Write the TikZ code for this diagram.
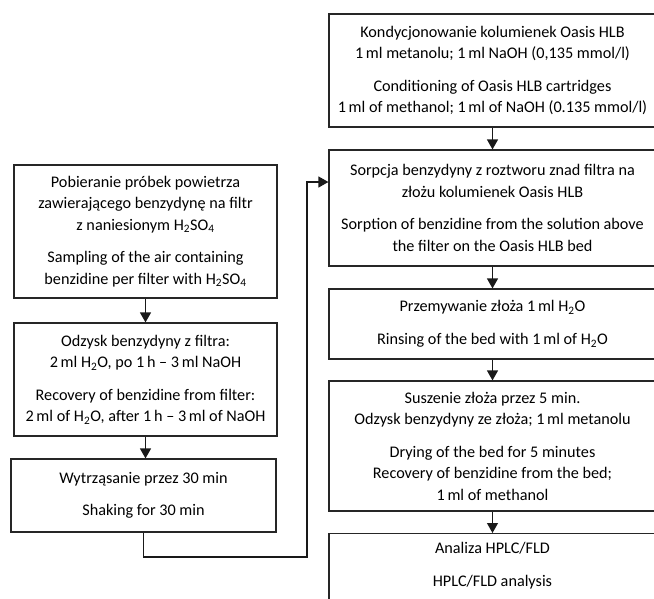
\documentclass[tikz,border=0pt]{standalone}
\usepackage{fontspec}
\setmainfont{Carlito}
\usetikzlibrary{arrows.meta}
\newcommand{\sub}[1]{\textsubscript{#1}}
\begin{document}
\begin{tikzpicture}[x=1pt,y=-1pt,
  txt/.style={font=\fontsize{16.2}{21.5}\selectfont},
  box/.style={draw=black!85, line width=1.2pt, inner sep=0pt, align=center, txt},
  arr/.style={draw=black!90, line width=1.2pt, -{Triangle[length=10pt,width=11pt]}},
  con/.style={draw=black!90, line width=1.2pt}]
\useasboundingbox (0,0) rectangle (654,598);
% left column
\node[box, minimum width=263pt, minimum height=133pt] (L1) at (145.5,231.5)
  {Pobieranie próbek powietrza\\zawierającego benzydynę na filtr\\z naniesionym H\sub{2}SO\sub{4}\\[11pt]
   Sampling of the air containing\\benzidine per filter with H\sub{2}SO\sub{4}};
\node[box, minimum width=263pt, minimum height=113pt] (L2) at (145.5,379.5)
  {Odzysk benzydyny z filtra:\\2\,ml H\sub{2}O, po 1\,h -- 3\,ml NaOH\\[11pt]
   Recovery of benzidine from filter:\\2\,ml of H\sub{2}O, after 1\,h -- 3\,ml of NaOH};
\node[box, minimum width=265pt, minimum height=73pt] (L3) at (143.5,495.5)
  {Wytrząsanie przez 30 min\\[11pt]Shaking for 30 min};
% right column
\node[box, minimum width=327pt, minimum height=113pt] (R1) at (492.5,70.5)
  {Kondycjonowanie kolumienek Oasis HLB\\1\,ml metanolu; 1\,ml NaOH (0,135 mmol/l)\\[11pt]
   Conditioning of Oasis HLB cartridges\\1\,ml of methanol; 1\,ml of NaOH (0.135 mmol/l)};
\node[box, minimum width=327pt, minimum height=116pt] (R2) at (492.5,208)
  {Sorpcja benzydyny z roztworu znad filtra na\\złożu kolumienek Oasis HLB\\[11pt]
   Sorption of benzidine from the solution above\\the filter on the Oasis HLB bed};
\node[box, minimum width=327pt, minimum height=70pt] (R3) at (492.5,324)
  {Przemywanie złoża 1\,ml H\sub{2}O\\[11pt]Rinsing of the bed with 1\,ml of H\sub{2}O};
\node[box, minimum width=327pt, minimum height=130pt] (R4) at (492.5,446)
  {Suszenie złoża przez 5 min.\\Odzysk benzydyny ze złoża; 1\,ml metanolu\\[11pt]
   Drying of the bed for 5 minutes\\Recovery of benzidine from the bed;\\1\,ml of methanol};
\node[box, minimum width=327pt, minimum height=90pt, anchor=north] (R5) at (492.5,533) {};
\node[txt, align=center, anchor=north] (R5t) at (492.5,539)
  {Analiza HPLC/FLD\\[11pt]HPLC/FLD analysis};
% connectors
\draw[arr] (L1.south) -- (L2.north);
\draw[arr] (L2.south) -- (L2.south |- L3.north);
\draw[arr] (R1.south) -- (R2.north);
\draw[arr] (R2.south) -- (R3.north);
\draw[arr] (R3.south) -- (R4.north);
\draw[arr] (R4.south) -- (R5.north);
\coordinate (k1) at (307,557);
\coordinate (k2) at (307,182);
\draw[arr] (L3.south) |- (k1) -- (k2) -- (k2 -| R2.west);
\end{tikzpicture}
\end{document}
